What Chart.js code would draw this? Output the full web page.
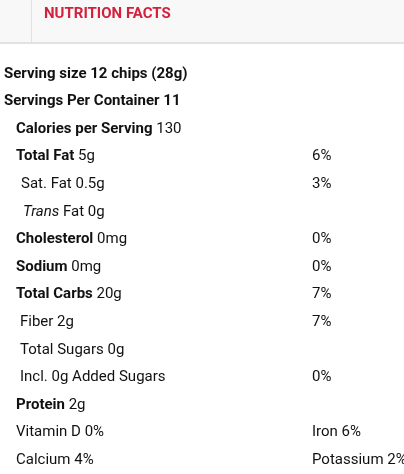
<!DOCTYPE html>
<html><head><meta charset="utf-8">
<script src="https://cdn.jsdelivr.net/npm/chart.js@4"></script>
<style>html,body{margin:0;padding:0;background:#fff}#wrap{width:404px;height:474px;position:relative}</style>
</head><body><div id="wrap"><canvas id="nutri"></canvas></div>
<script>
// rows of the label: [bold part, regular part, indent]
const rowNames = ["Serving size 12 chips (28g)", "Servings Per Container 11", "Calories per Serving", "Total Fat", "Sat. Fat 0.5g", "Trans", "Cholesterol", "Sodium", "Total Carbs", "Fiber 2g", "Total Sugars 0g", "Incl. 0g Added Sugars", "Protein", "Vitamin D 0%", "Calcium 4%"];
const rowAmounts = ["", "", " 130", " 5g", "", " Fat 0g", " 0mg", " 0mg", " 20g", "", "", "", " 2g", "", ""];
const rowStyle = ["bold", "bold", "bold", "bold", "normal", "italic", "bold", "bold", "bold", "normal", "normal", "normal", "bold", "normal", "normal"];
const rowIndent = [4, 4, 16, 16, 21, 23, 16, 16, 16, 20, 20, 20, 16, 16, 16];
const dailyValues = ["", "", "", "6%", "3%", "", "0%", "0%", "7%", "7%", "", "0%", "", "Iron 6%", "Potassium 2%"];

const header = {
  id: "header",
  beforeDraw(chart) {
    const c = chart.ctx;
    c.save();
    c.fillStyle = "#f8f8f8";
    c.fillRect(0, 0, chart.width, 42);
    c.fillStyle = "#e2e2e2";
    c.fillRect(0, 42, chart.width, 2);
    c.fillRect(31, 0, 1, 42);
    c.fillStyle = "#d3213c";
    c.font = "bold 15px Roboto";
    c.textBaseline = "middle";
    c.fillText("NUTRITION FACTS", 44, 14);
    c.restore();
  }
};

const rows = {
  id: "rows",
  afterDraw(chart) {
    const c = chart.ctx, y = chart.scales.y;
    c.save();
    c.textBaseline = "middle";
    c.fillStyle = "#111";
    rowNames.forEach((name, i) => {
      const py = y.getPixelForValue(i);
      let x = rowIndent[i];
      c.font = rowStyle[i] === "bold" ? "bold 15px Roboto" : rowStyle[i] === "italic" ? "italic 15px Roboto" : "15px Roboto";
      c.fillText(name, x, py);
      x += c.measureText(name).width;
      c.font = "15px Roboto";
      if (rowAmounts[i]) c.fillText(rowAmounts[i], x, py);
      if (dailyValues[i]) c.fillText(dailyValues[i], 312, py);
    });
    c.restore();
  }
};

new Chart(document.getElementById("nutri").getContext("2d"), {
  type: "bar",
  data: { labels: rowNames, datasets: [{ data: rowNames.map(() => null) }] },
  options: {
    indexAxis: "y",
    responsive: true,
    maintainAspectRatio: false,
    animation: false,
    layout: { padding: { top: 60, bottom: 0, left: 0, right: 0 } },
    plugins: { legend: { display: false }, tooltip: { enabled: false } },
    scales: { x: { display: false }, y: { display: false } }
  },
  plugins: [header, rows]
});
</script></body></html>
